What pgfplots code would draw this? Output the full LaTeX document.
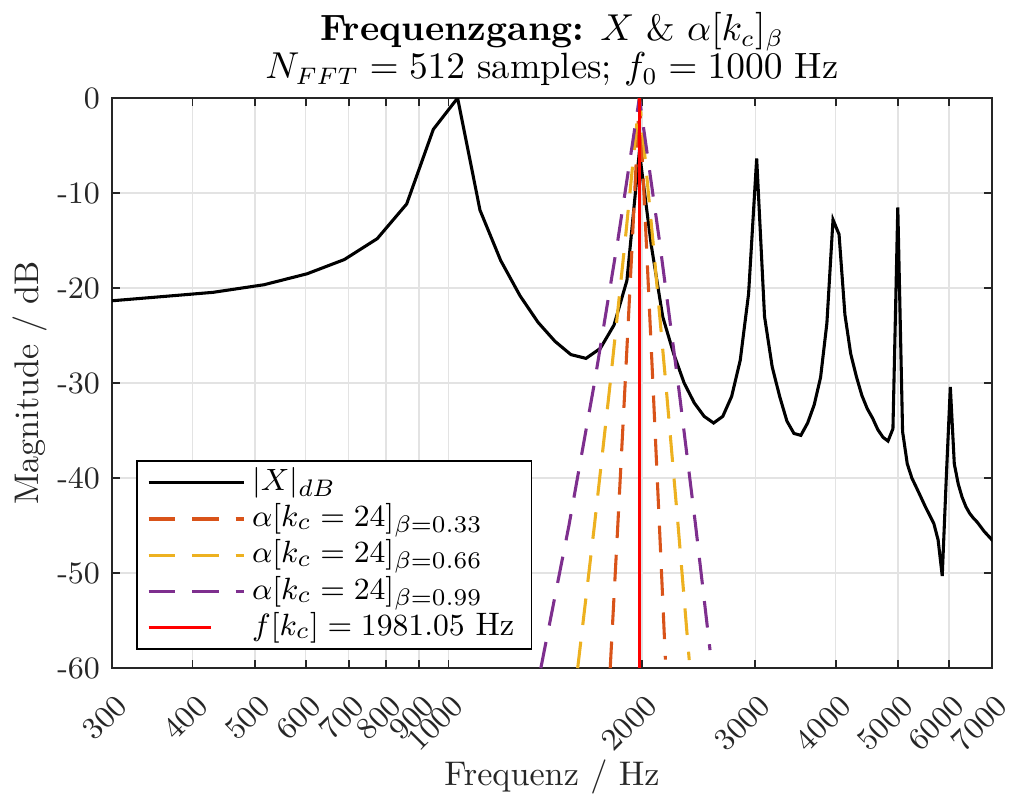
\documentclass[border=0pt]{standalone}
\usepackage{pgfplots}
\pgfplotsset{compat=1.18}
\definecolor{mlorange}{rgb}{0.85,0.325,0.098}
\definecolor{mlyellow}{rgb}{0.929,0.694,0.125}
\definecolor{mlpurple}{rgb}{0.494,0.184,0.556}
\definecolor{axgray}{rgb}{0.15,0.15,0.15}
\definecolor{gridgray}{rgb}{0.89,0.89,0.89}
\pgfplotsset{
    longlegend/.style={legend image code/.code={\draw[##1] (0pt,0pt) -- (27.8pt,0pt);}},
    shortlegend/.style={legend image code/.code={\draw[##1] (0pt,0pt) -- (18.1pt,0pt);}},
}

% |X| in dB at the FFT bins (fs = 44100 Hz, N = 512)
\pgfplotstableread{
f dB
258.40 -21.7
344.53 -21.0
430.66 -20.45
516.80 -19.65
602.93 -18.5
689.06 -17.0
775.20 -14.8
861.33 -11.15
947.46 -3.3
1033.59 0.0
1119.73 -11.8
1205.86 -17.1
1291.99 -20.8
1378.13 -23.6
1464.26 -25.6
1550.39 -27.0
1636.52 -27.4
1722.66 -26.35
1808.79 -23.9
1894.92 -19.2
1981.05 -5.65
2067.19 -15.5
2153.32 -23.0
2239.45 -26.9
2325.59 -30.0
2411.72 -32.1
2497.85 -33.5
2583.98 -34.2
2670.12 -33.5
2756.25 -31.4
2842.38 -27.6
2928.52 -20.6
3014.65 -6.35
3100.78 -23.0
3186.91 -28.3
3273.05 -31.4
3359.18 -34.0
3445.31 -35.3
3531.45 -35.5
3617.58 -34.2
3703.71 -32.3
3789.84 -29.4
3875.98 -23.7
3962.11 -12.8
4048.24 -14.35
4134.38 -22.8
4220.51 -26.9
4306.64 -29.3
4392.77 -31.3
4478.91 -32.7
4565.04 -33.7
4651.17 -34.9
4737.30 -35.7
4823.44 -36.1
4909.57 -34.8
4995.70 -11.5
5081.84 -35.1
5167.97 -38.5
5254.10 -40.0
5340.23 -41.0
5426.37 -42.0
5512.50 -43.0
5598.63 -43.9
5684.77 -44.8
5770.90 -46.5
5857.03 -50.3
5943.16 -39.9
6029.30 -30.4
6115.43 -38.5
6201.56 -40.6
6287.70 -42.0
6373.83 -43.0
6459.96 -43.7
6546.09 -44.2
6632.23 -44.6
6718.36 -45.1
6804.49 -45.6
6890.63 -46.0
6976.76 -46.4
7062.89 -46.8
}\magX

\begin{document}
\begin{tikzpicture}
\begin{axis}[
    scale only axis,
    width=257.3pt, height=166.7pt,
    xmode=log,
    xmin=300, xmax=7000,
    ymin=-60, ymax=0,
    xtick={300,400,500,600,700,800,900,1000,2000,3000,4000,5000,6000,7000},
    xticklabels={300,400,500,600,700,800,900,1000,2000,3000,4000,5000,6000,7000},
    minor x tick num=0,
    ytick={-60,-50,-40,-30,-20,-10,0},
    yticklabels={-60,-50,-40,-30,-20,-10,0},
    grid=major,
    grid style={gridgray, line width=0.45pt},
    axis line style={axgray, line width=0.5pt},
    tick style={axgray, line width=0.5pt},
    major tick length=2.4pt,
    tick label style={font=\fontsize{9.1}{10}\selectfont, text=axgray},
    xticklabel style={xshift=0.6pt, yshift=-7pt, rotate=45, anchor=north east, inner sep=0pt},
    xlabel={Frequenz / Hz},
    ylabel={Magnitude / dB},
    label style={font=\fontsize{10}{12}\selectfont, text=axgray},
    xlabel style={at={(axis description cs:0.5,-0.2052)}, anchor=base},
    ylabel style={at={(axis description cs:-0.083,0.5)}, anchor=base},
    title={\textbf{Frequenzgang:} $X$ \& $\alpha[k_c]_\beta$\\$N_{FFT} = 512$ samples; $f_0 = 1000$ Hz},
    every axis title shift=0pt,
    title style={font=\fontsize{10.7}{11.1}\selectfont, align=center, at={(axis description cs:0.5,1)}, anchor=south},
    legend style={at={(axis description cs:0.0273,0.0316)}, anchor=south west,
        draw=black, line width=0.5pt, fill=white,
        font=\fontsize{9.5}{10}\selectfont,
        inner xsep=3pt, inner ysep=1pt, row sep=0pt,
        nodes={inner ysep=0.5pt, text height=7pt, text depth=2.6pt}},
    legend cell align=left,
    longlegend,
]
\addplot[black, line width=0.9pt] table[x=f, y=dB] {\magX};
\addlegendentry{$|X|_{dB}$}
\addplot[mlorange, line width=0.9pt, dash pattern=on 7.8pt off 4.9pt] coordinates {
    (1784.75,-60) (1833.8,-45) (1882.9,-30) (1932.0,-15) (1981.05,0)
    (2030.1,-15) (2079.2,-30) (2128.3,-45) (2174.4,-59.1)};
\addlegendentry{$\alpha[k_c = 24]_{\beta=0.33}$}
\addplot[mlyellow, line width=0.9pt, dash pattern=on 7.8pt off 4.9pt] coordinates {
    (1588.45,-60) (1686.6,-45) (1784.75,-30) (1882.9,-15) (1981.05,0)
    (2079.2,-15) (2177.35,-30) (2275.5,-45) (2368.05,-59.15)};
\addlegendentry{$\alpha[k_c = 24]_{\beta=0.66}$}
\addplot[mlpurple, line width=0.9pt, dash pattern=on 7.8pt off 4.9pt] coordinates {
    (1392.15,-60) (1539.4,-45) (1686.6,-30) (1833.8,-15) (1981.05,0)
    (2128.3,-15) (2275.5,-30) (2422.7,-45) (2551.05,-58.1)};
\addlegendentry{$\alpha[k_c = 24]_{\beta=0.99}$}
\addplot[red, line width=0.9pt, shortlegend]
    coordinates {(1981.05,-60) (1981.05,0)};
\addlegendentry{$f[k_c] = 1981.05$ Hz}
\coordinate (bl) at (axis description cs:-0.12727,-0.22281);
\coordinate (tr) at (axis description cs:1.02159,1.17193);
\end{axis}
\path (bl) rectangle (tr);
\end{tikzpicture}
\end{document}
